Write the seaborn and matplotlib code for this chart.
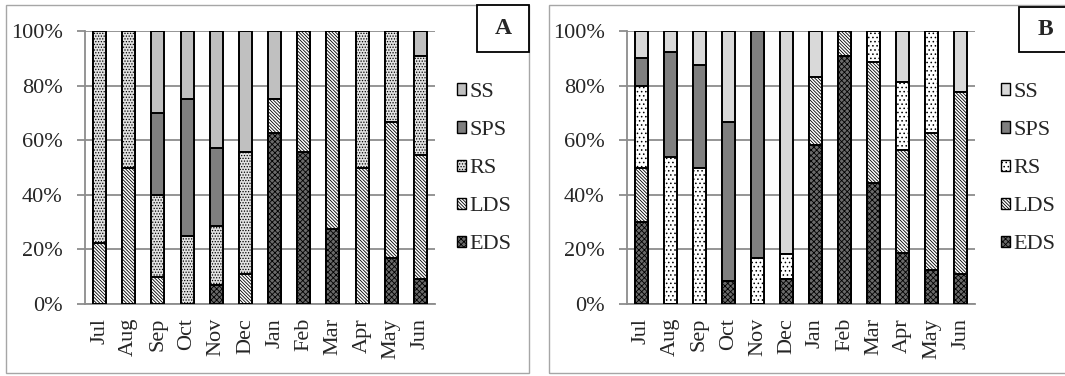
import numpy as np
import pandas as pd
import matplotlib
matplotlib.use("Agg")
import matplotlib.pyplot as plt
from matplotlib.patches import Rectangle, Patch
import seaborn as sns

months = ["Jul", "Aug", "Sep", "Oct", "Nov", "Dec", "Jan", "Feb", "Mar", "Apr", "May", "Jun"]
stages = ["SS", "SPS", "RS", "LDS", "EDS"]

# panel A (% of each month)
ss_a = [0, 0, 30, 25, 42.9, 44.4, 25, 0, 0, 0, 0, 9.1]
sps_a = [0, 0, 30, 50, 28.6, 0, 0, 0, 0, 0, 0, 0]
rs_a = [77.8, 50, 30, 25, 21.4, 44.4, 0, 0, 0, 50, 33.3, 36.4]
lds_a = [22.2, 50, 10, 0, 0, 11.1, 12.5, 44.4, 72.7, 50, 50, 45.5]
eds_a = [0, 0, 0, 0, 7.1, 0, 62.5, 55.6, 27.3, 0, 16.7, 9.1]

# panel B
ss_b = [10, 7.7, 12.5, 33.3, 0, 81.8, 16.7, 0, 0, 18.75, 0, 22.2]
sps_b = [10, 38.5, 37.5, 58.3, 83.3, 0, 0, 0, 0, 0, 0, 0]
rs_b = [30, 53.8, 50, 0, 16.7, 9.1, 0, 0, 11.1, 25, 37.5, 0]
lds_b = [20, 0, 0, 0, 0, 0, 25, 9.1, 44.4, 37.5, 50, 66.7]
eds_b = [30, 0, 0, 8.3, 0, 9.1, 58.3, 90.9, 44.4, 18.75, 12.5, 11.1]

sns.set_style("white")
plt.rcParams["font.family"] = ["Liberation Serif", "DejaVu Serif"]
plt.rcParams["hatch.linewidth"] = 0.6

W, H = 1065, 376
FS = 16
fig = plt.figure(figsize=(W / 100, H / 100), dpi=100)
fig.patch.set_facecolor("white")

GRID = "#8c8c8c"

styles_a = {
    "SS": dict(color="#c0c0c0", hatch=None),
    "SPS": dict(color="#7f7f7f", hatch=None),
    "RS": dict(color="#e2e2e2", hatch="......"),
    "LDS": dict(color="white", hatch="\\" * 10),
    "EDS": dict(color="#6a6a6a", hatch="xxxxxx"),
}
styles_b = {
    "SS": dict(color="#d9d9d9", hatch=None),
    "SPS": dict(color="#7f7f7f", hatch=None),
    "RS": dict(color="white", hatch="...."),
    "LDS": dict(color="white", hatch="\\" * 10),
    "EDS": dict(color="#6a6a6a", hatch="xxxxxx"),
}


def fig_rect(x0, y0, x1, y1):
    return [x0 / W, 1 - y1 / H, (x1 - x0) / W, (y1 - y0) / H]


def draw_panel(ax, series, styles, letter, legend_x, box):
    df = pd.DataFrame(series, index=stages).T
    df["month"] = months
    # cumulative tops, drawn from the top layer downward
    cum = df[stages[::-1]].cumsum(axis=1)
    for st in stages:
        sty = styles[st]
        sns.barplot(x=months, y=cum[st].values, order=months, ax=ax,
                    color=sty["color"], hatch=sty["hatch"], edgecolor="black",
                    linewidth=1.4, width=0.45, saturation=1, zorder=3)
    ax.set_ylim(0, 100)
    ax.set_xlim(-0.5, len(months) - 0.5)
    ax.set_yticks(range(0, 101, 20))
    ax.set_yticklabels([f"{v}%" for v in range(0, 101, 20)], fontsize=FS)
    ax.set_xticks(range(len(months)))
    ax.set_xticklabels(months, rotation=90, fontsize=FS)
    ax.set_xticks(np.arange(-0.5, len(months)), minor=True)
    ax.tick_params(axis="x", which="major", length=0, pad=10)
    ax.tick_params(axis="x", which="minor", length=6, color=GRID, width=1.3, direction="out")
    ax.tick_params(axis="y", length=6, color=GRID, width=1.3, pad=10, left=True)
    ax.set_xlabel("")
    ax.set_ylabel("")
    ax.yaxis.grid(True, color=GRID, linewidth=1.3, zorder=0)
    ax.set_axisbelow(True)
    for s in ["top", "right"]:
        ax.spines[s].set_visible(False)
    for s in ["left", "bottom"]:
        ax.spines[s].set_color(GRID)
        ax.spines[s].set_linewidth(1.3)

    handles = [Patch(facecolor=styles[st]["color"], edgecolor="black",
                     hatch=styles[st]["hatch"], linewidth=1.0, label=st)
               for st in stages]
    fig.legend(handles=handles, loc="upper left",
               bbox_to_anchor=(legend_x / W, 1 - 83 / H), frameon=False,
               fontsize=FS, handlelength=0.42, handleheight=0.42,
               handletextpad=0.15, labelspacing=0.86, borderpad=0,
               borderaxespad=0)

    bx0, by0, bx1, by1 = box
    fig.patches.append(Rectangle((bx0 / W, 1 - by1 / H), (bx1 - bx0) / W, (by1 - by0) / H,
                                 transform=fig.transFigure, facecolor="white",
                                 edgecolor="black", linewidth=1.3, zorder=5))
    fig.text((bx0 + 26) / W, 1 - (by0 + by1) / 2 / H, letter, fontsize=17,
             fontweight="bold", ha="center", va="center", zorder=6)


# panel frames
for x0, x1 in [(6, 529), (549, 1075)]:
    fig.patches.append(Rectangle((x0 / W, 1 - 373 / H), (x1 - x0) / W, 368 / H,
                                 transform=fig.transFigure, facecolor="none",
                                 edgecolor="#a6a6a6", linewidth=1.0))

ax_a = fig.add_axes(fig_rect(85, 31, 435, 304))
ax_b = fig.add_axes(fig_rect(627, 31, 975, 304))

draw_panel(ax_a, [ss_a, sps_a, rs_a, lds_a, eds_a], styles_a, "A", 457, (477, 5, 529, 52))
draw_panel(ax_b, [ss_b, sps_b, rs_b, lds_b, eds_b], styles_b, "B", 1001, (1019, 7, 1075, 52))

fig.savefig("out.png", dpi=100)
